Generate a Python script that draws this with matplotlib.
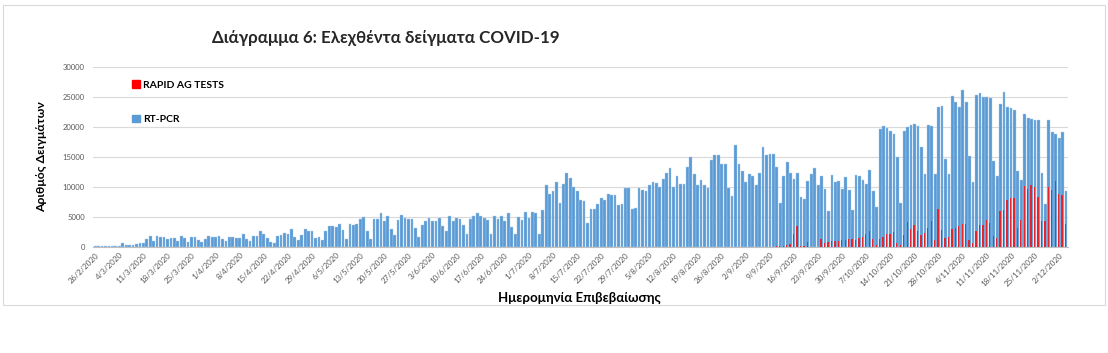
import numpy as np
import pandas as pd
import matplotlib
matplotlib.use('Agg')
import matplotlib.pyplot as plt
from matplotlib.patches import Rectangle, Patch

plt.rcParams['font.family'] = ['Lato', 'DejaVu Sans']

# daily RT-PCR samples from 26/2/2020
start_date = '2020-02-26'
rt_pcr = [
    100, 120, 110, 150, 130, 140, 160, 150, 650, 300, 280, 300,
    500, 600, 700, 1300, 1850, 1000, 1800, 1600, 1700, 1400,
    1500, 1450, 1000, 1850, 1550, 900, 1600, 1600, 1200, 900,
    1400, 1850, 1600, 1650, 1850, 1350, 1000, 1650, 1650, 1550,
    1550, 2200, 1350, 1000, 1800, 1850, 2700, 2200, 1550, 900,
    650, 1850, 2000, 2350, 2200, 2950, 1750, 1100, 2050, 3000,
    2750, 2700, 1550, 1650, 1250, 2700, 3500, 3450, 3300,
    3800, 2900, 1400, 3900, 3600, 3900, 4700, 5000, 2700, 1400,
    4700, 4600, 5700, 4300, 5100, 3000, 2000, 4500, 5400, 4800,
    4700, 4600, 3100, 1700, 3600, 4300, 4900, 4400, 4300, 4900,
    3500, 2700, 5200, 4400, 4900, 4600, 3700, 2100, 4700, 5100,
    5600, 5100, 4800, 4500, 2200, 5100, 4700, 5100, 4400, 5600,
    3300, 2100, 5000, 4500, 5900, 4900, 5800, 5600, 2100, 6200,
    10400, 8900, 9300, 10900, 7400, 10500, 12300, 11500, 10000, 9300,
    7900, 7600, 4000, 6300, 6400, 7100, 8100, 7900, 8800, 8600,
    8700, 7000, 7100, 9900, 9900, 6300, 6500, 9800,
    9500, 9400, 10300, 10900, 10700, 10000, 11300, 12400, 13200, 10000,
    11900, 10500, 10500, 13300, 15000, 12100, 10400, 11200, 10400, 9800,
    14500, 15400, 15300, 13900, 13900, 9900, 8500, 17000, 13800, 12600,
    10800, 12200, 11800, 10400, 12400, 16600, 15400, 15500, 15500, 13400,
    7300, 11800, 14200, 12400, 11400, 12400, 8400, 8000, 11000, 12100,
    13100, 10300, 11800, 9700, 6000, 12000, 10900, 11000, 9700, 11700,
    9500, 6100, 12000, 11800, 11200, 10500, 12900,
    9300, 6700, 19700, 20200, 19900, 19300, 18900, 15000, 7300, 19400,
    20000, 20300, 20500, 20200, 16600, 12100, 20300, 20200, 12200, 23400,
    23500, 14700, 12100, 25200, 24200, 23300, 26100, 24100, 15200, 10800,
    25300, 25700, 25000, 25000, 24900, 14300, 11900, 23900, 25800, 23400,
    23100, 22800, 12700, 11200, 22200, 21500, 21300, 21100, 21100, 12400,
    7200, 21100, 19200, 18900, 18200, 19200, 9300,
]

# rapid antigen tests, from 11/9/2020
rapid_start = '2020-09-11'
rapid_ag = [
    150, 150, 150, 300, 500, 2200, 3450, 100, 100, 800,
    0, 0, 0, 1300, 600, 900, 1000, 1000, 950, 1100, 1200, 1300,
    1400, 1200, 1450, 1650, 2150, 2700, 1300, 300, 1350, 1700,
    2150, 2200, 2500, 750, 300, 2050, 4200, 3000, 3600, 2600,
    2000, 2400, 3100, 4300, 1100, 6300, 2800, 1550, 1600, 3050,
    3100, 3450, 3800, 3800, 1150, 600, 2700, 3600, 3700, 4500,
    3950, 1800, 1500, 6000, 6100, 7900, 8100, 8200, 3200, 4450,
    10200, 9600, 10350, 9950, 8350, 4300, 4350, 9950, 9450, 10950,
    8900, 8700, 3850,
]

dates = pd.date_range(start_date, periods=len(rt_pcr))
x = np.arange(len(rt_pcr))
rapid_x = (pd.date_range(rapid_start, periods=len(rapid_ag)) - dates[0]).days.values

blue = '#5B9BD5'
red = '#FF0000'

fig = plt.figure(figsize=(11.08, 3.53), dpi=100)
ax = fig.add_axes([0.084, 0.300, 0.880, 0.510])

ax.bar(x, rt_pcr, width=0.8, color=blue, edgecolor='#A9CBEA', linewidth=0.3, zorder=2)
ax.bar(rapid_x - 0.15, rapid_ag, width=0.38, color='#E2262E', linewidth=0, zorder=3)

ax.set_ylim(0, 30000)
ax.set_xlim(-0.6, len(rt_pcr) - 0.4)
ax.set_yticks(np.arange(0, 30001, 5000))
ax.yaxis.grid(True, color='#D9D9D9', linewidth=0.8, zorder=0)
ax.set_axisbelow(True)
for s in ['top', 'right', 'left']:
    ax.spines[s].set_visible(False)
ax.spines['bottom'].set_color('#BFBFBF')
ax.spines['bottom'].set_linewidth(0.8)

ticks = x[::7]
ax.set_xticks(ticks)
ax.set_xticklabels(['%d/%d/%d' % (d.day, d.month, d.year) for d in dates[::7]],
                   rotation=45, ha='right', rotation_mode='anchor', fontsize=5.8, color='#595959')
ax.tick_params(axis='x', length=0, pad=3)
ax.tick_params(axis='y', length=0, labelsize=5.5, labelcolor='#595959', pad=6)

ax.set_ylabel('Αριθμός Δειγμάτων', fontsize=8.8, fontweight='bold', labelpad=11)
fig.text(0.523, 0.155, 'Ημερομηνία Επιβεβαίωσης', fontsize=9.5, fontweight='bold', ha='center', va='center')
fig.text(0.348, 0.892, 'Διάγραμμα 6: Ελεχθέντα δείγματα COVID-19', fontsize=12.2,
         fontweight='bold', ha='center', va='center', color='#262626')

handles = [Patch(color=red, label='RAPID AG TESTS'), Patch(color=blue, label='RT-PCR')]
ax.legend(handles=handles, loc='upper left', bbox_to_anchor=(0.035, 0.955), frameon=False,
          prop={'size': 7.5, 'weight': 'bold'}, handlelength=0.75, handleheight=0.75,
          handletextpad=0.3, labelspacing=2.4, borderpad=0)

fig.patches.append(Rectangle((3 / 1108, 1 - 305 / 353), 1102 / 1108, 300 / 353,
                             transform=fig.transFigure, fill=False, edgecolor='#D9D9D9', linewidth=0.8))

fig.savefig('out.png', dpi=100)
